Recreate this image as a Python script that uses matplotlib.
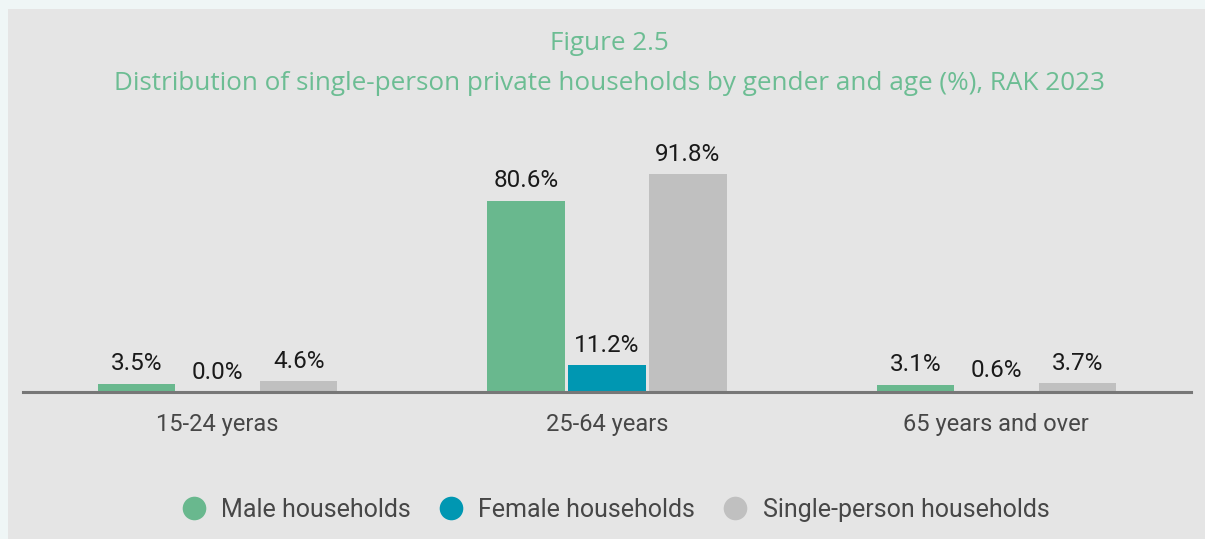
import matplotlib
matplotlib.use("Agg")
import matplotlib.pyplot as plt
from matplotlib.patches import Rectangle
from matplotlib.lines import Line2D
import numpy as np

categories = ["15-24 yeras", "25-64 years", "65 years and over"]
series_names = ["Male households", "Female households", "Single-person households"]
male = [3.5, 80.6, 3.1]
female = [0.0, 11.2, 0.6]
single = [4.6, 91.8, 3.7]
colors = ["#69b88e", "#0097b2", "#c0c0c0"]

W, H = 1205, 539
fig = plt.figure(figsize=(W / 100, H / 100), dpi=100)
fig.patch.set_facecolor("#eff6f6")
fig.patches.append(Rectangle((8 / W, 0), 1 - 8 / W, 1 - 9 / H, transform=fig.transFigure,
                             facecolor="#e5e5e5", edgecolor="none", zorder=-10))

ax = fig.add_axes([23 / W, (H - 392) / H, (1191 - 23) / W, (392 - 140) / H])
ax.set_facecolor("none")
ax.set_zorder(5)
ymax = (392 - 140) / 2.375
ax.set_xlim(-0.5, 2.5)
ax.set_ylim(0, ymax)

x = np.arange(len(categories))
step = 0.208
width = 0.198
for i, (vals, c) in enumerate(zip([male, female, single], colors)):
    xs = x + (i - 1) * step
    bars = ax.bar(xs, vals, width=width, color=c, zorder=2)
    for xi, v in zip(xs, vals):
        ax.annotate(f"{v:.1f}%", (xi, v), xytext=(0, 6), textcoords="offset points",
                    ha="center", va="bottom", fontsize=17.5, family="Roboto",
                    color="#1a1a1a")

for s in ["top", "right", "left"]:
    ax.spines[s].set_visible(False)
ax.spines["bottom"].set_color("#777777")
ax.spines["bottom"].set_linewidth(2.2)
ax.set_yticks([])
ax.set_xticks(x)
ax.set_xticklabels(categories, fontsize=17, family="Roboto", color="#474747")
ax.tick_params(axis="x", length=0, pad=15)

fig.text(609 / W, 1 - 43 / H, "Figure 2.5", ha="center", va="center",
         fontsize=18.8, color="#6cbd93", family="Open Sans")
fig.text(609 / W, 1 - 83 / H,
         "Distribution of single-person private households by gender and age (%), RAK 2023",
         ha="center", va="center", fontsize=18.8, color="#6cbd93", family="Open Sans")

handles = [Line2D([0], [0], marker="o", linestyle="none", markersize=17,
                  markerfacecolor=c, markeredgecolor="none") for c in colors]
leg = fig.legend(handles, series_names, loc="center", bbox_to_anchor=(609 / W, 1 - 510 / H),
                 ncol=3, frameon=False, handletextpad=0.1, columnspacing=0.6,
                 prop={"family": "Roboto", "size": 18})
for t in leg.get_texts():
    t.set_color("#474747")

fig.savefig("out.png", dpi=100, facecolor=fig.get_facecolor())
